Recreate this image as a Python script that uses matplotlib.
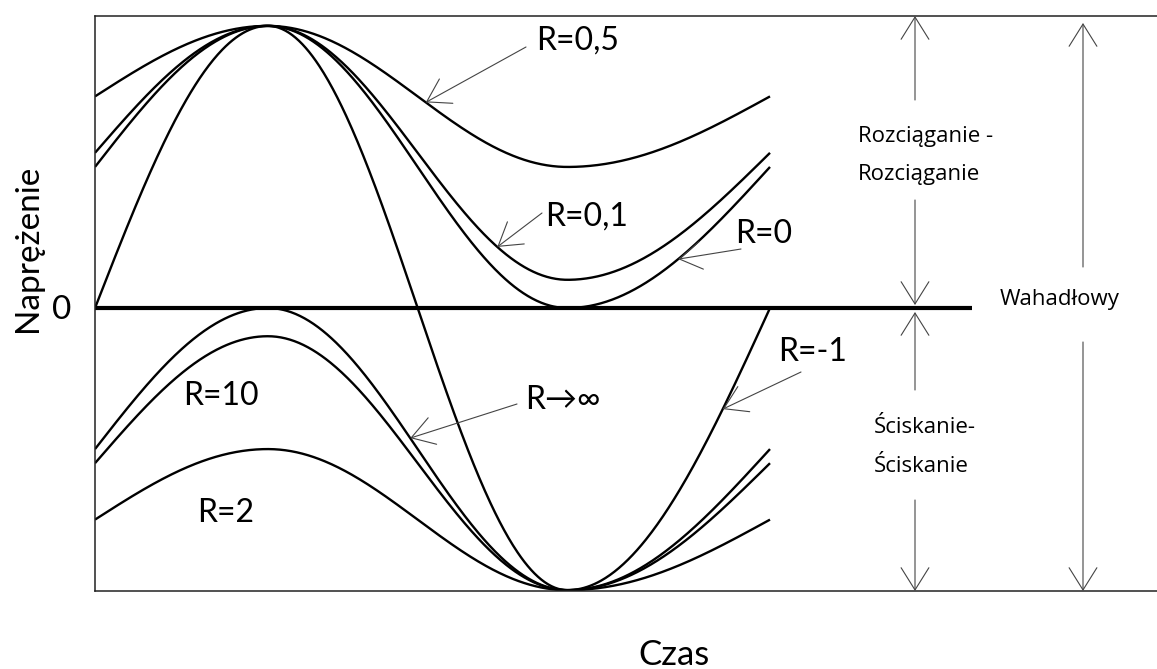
import numpy as np
import matplotlib.pyplot as plt

W, H = 1157, 669

# key instants of one loading cycle: start (mean), max, min, end (mean)
t_keys = [0.0, 0.256, 0.70, 1.0]

# tension-tension cycles: sigma_max = 1, sigma_min = R * sigma_max
r_tension = [0.5, 0.1, 0.0]
r_tension_labels = ["R=0,5", "R=0,1", "R=0"]

# fully reversed cycle
r_reversed = -1.0

# compression-compression cycles: sigma_min = -1, sigma_max = sigma_min / R
r_compression = [10.0, 2.0, np.inf]
r_compression_labels = ["R=10", "R=2", "R→∞"]


def phase(t):
    # quarter, half, quarter cycle between the key instants
    return np.interp(t, t_keys, [0.0, np.pi / 2, 3 * np.pi / 2, 2 * np.pi])


def stress(t, smax, smin):
    sm = (smax + smin) / 2
    sa = (smax - smin) / 2
    return sm + sa * np.sin(phase(t))


def fig_px(x, y):
    return x / W, 1 - y / H


plt.rcParams['font.family'] = ['Lato', 'DejaVu Sans']

fig = plt.figure(figsize=(W / 100, H / 100), dpi=100)
ax = fig.add_axes([95 / W, (H - 591) / H, 1.01 - 95 / W, (591 - 16) / H])
ax.set_xlim(0, (1.01 * W - 95) / 675)
ax.set_ylim(-1.003, 1.035)
ax.set_xticks([])
ax.set_yticks([])
ax.spines['right'].set_visible(False)
for s in ['left', 'top', 'bottom']:
    ax.spines[s].set_linewidth(1.1)
    ax.spines[s].set_color('#222222')

t = np.linspace(0, 1, 600)
lw = 1.7
curves = {}
for r, lab in zip(r_tension, r_tension_labels):
    curves[lab] = (1.0, r * 1.0)
curves["R=-1"] = (1.0, r_reversed * 1.0)
for r, lab in zip(r_compression, r_compression_labels):
    curves[lab] = (-1.0 / r, -1.0)

for lab, (smax, smin) in curves.items():
    ax.plot(t, stress(t, smax, smin), color='black', lw=lw, solid_capstyle='butt')

# zero stress line
ax.plot([0, (972 - 95) / 675], [0, 0], color='black', lw=3.0, solid_capstyle='butt')

arrow_kw = dict(arrowstyle='->,head_length=0.8,head_width=0.5', color='#444444',
                lw=0.8, shrinkA=0, shrinkB=0, mutation_scale=20)

# labels with arrows pointing onto the curves
pointers = [
    ("R=0,5", 0.490, (526, 47), (536, 50)),
    ("R=0,1", 0.596, (542, 213), (545, 226)),
    ("R=0", 0.864, (741, 249), (735, 243)),
    ("R=-1", 0.930, (801, 372), (778, 361)),
    ("R→∞", 0.467, (517, 404), (525, 409)),
]
for lab, tp, tail, txt in pointers:
    smax, smin = curves[lab]
    ax.annotate('', xy=(tp, stress(tp, smax, smin)), xycoords='data',
                xytext=fig_px(*tail), textcoords='figure fraction', arrowprops=arrow_kw)
    fig.text(*fig_px(*txt), lab, fontsize=23, ha='left', va='baseline')

fig.text(*fig_px(183, 405), "R=10", fontsize=23, ha='left', va='baseline')
fig.text(*fig_px(197, 522), "R=2", fontsize=23, ha='left', va='baseline')

# range arrows on the right
def vline_arrow(x, y0, y1):
    ax.annotate('', xy=fig_px(x, y1), xycoords='figure fraction',
                xytext=fig_px(x, y0), textcoords='figure fraction', arrowprops=arrow_kw)

vline_arrow(915, 100, 16)
vline_arrow(915, 200, 305)
vline_arrow(915, 390, 312)
vline_arrow(915, 500, 591)
vline_arrow(1083, 267, 23)
vline_arrow(1083, 342, 591)

small = dict(fontsize=16, family=['Open Sans', 'DejaVu Sans'], ha='left', va='baseline')
fig.text(*fig_px(858, 142), "Rozciąganie -", **small)
fig.text(*fig_px(858, 180), "Rozciąganie", **small)
fig.text(*fig_px(874, 433), "Ściskanie-", **small)
fig.text(*fig_px(874, 472), "Ściskanie", **small)
fig.text(*fig_px(1000, 305), "Wahadłowy", **small)

fig.text(*fig_px(62, 310), "0", fontsize=24, ha='center', va='center')
fig.text(*fig_px(28, 248), "Naprężenie", fontsize=24, rotation=90, ha='center', va='center')
fig.text(*fig_px(674, 665), "Czas", fontsize=25, ha='center', va='baseline')

fig.savefig('out.png', dpi=100)
